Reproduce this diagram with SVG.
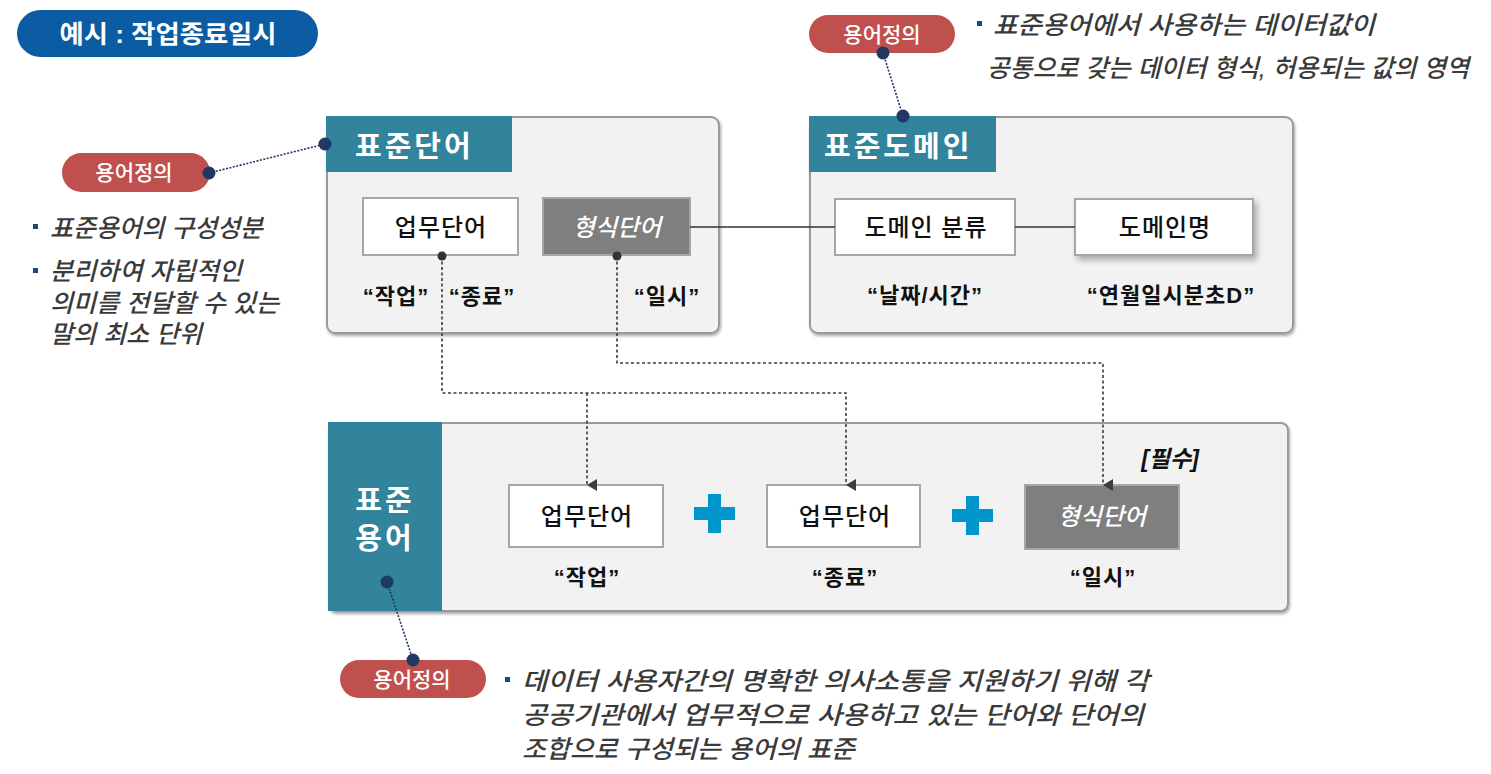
<svg xmlns="http://www.w3.org/2000/svg" width="1491" height="774" viewBox="0 0 1491 774">
<style>
.ko{font-family:"Liberation Sans","Noto Sans CJK KR",sans-serif}
.outer{fill:#F2F2F2;stroke:#9A9A9A;stroke-width:2}
.hdr{fill:#31849B}
.hdrt{fill:#fff;font-size:29px;font-weight:bold;letter-spacing:3px}
.wbox{fill:#fff;stroke:#A6A6A6;stroke-width:2}
.gbox{fill:#7F7F7F;stroke:#A6A6A6;stroke-width:2}
.bt{fill:#111;font-size:24px;font-weight:500;letter-spacing:1px;text-anchor:middle}
.gt{fill:#fff;font-size:24px;font-style:italic;font-weight:500;text-anchor:middle}
.lbl{fill:#111;font-size:22px;font-weight:bold;letter-spacing:1px;text-anchor:middle}
.pill{fill:#C0504D}
.pillt{fill:#fff;font-size:21px;font-weight:500;text-anchor:middle}
.desc{fill:#3A3A3A;font-size:25px;font-style:italic;font-weight:500}
.bul{fill:#1F497D}
.dot{fill:#1F3864}
.ndot{fill:#333}
.lead{fill:none;stroke:#1F3864;stroke-width:1.6;stroke-dasharray:2 1.5}
.dash{fill:none;stroke:#3C3C3C;stroke-width:1.6;stroke-dasharray:3 2.5}
.solid{fill:none;stroke:#333;stroke-width:1.6}
.plus{fill:#0096CC}
</style>
<defs>
<marker id="arr" viewBox="0 0 12 10" refX="6" refY="10" markerWidth="12" markerHeight="10" markerUnits="userSpaceOnUse" orient="auto-start-reverse">
<path d="M0,0 L12,0 L6,10 Z" fill="#3C3C3C"/>
</marker>
<filter id="sh" x="-5%" y="-5%" width="112%" height="115%">
<feDropShadow dx="1" dy="2" stdDeviation="1.5" flood-color="#000" flood-opacity="0.35"/>
</filter>
<filter id="sh2" x="-10%" y="-10%" width="125%" height="140%">
<feDropShadow dx="3" dy="4" stdDeviation="3" flood-color="#000" flood-opacity="0.3"/>
</filter>
</defs>

<g id="example-badge">
<rect x="17" y="10" width="301" height="47" rx="23.5" fill="#0B5CA2"/>
<text class="ko" x="168" y="43" fill="#fff" font-size="25" font-weight="bold" text-anchor="middle" textLength="217" lengthAdjust="spacingAndGlyphs">예시 : 작업종료일시</text>
</g>

<g id="std-word">
<rect class="outer" x="327" y="117" width="392" height="216" rx="8" filter="url(#sh)"/>
<rect class="hdr" x="326" y="116" width="186" height="56"/>
<text class="ko hdrt" x="355" y="157">표준단어</text>
</g>
<g id="word-biz">
<rect class="wbox" x="363" y="198" width="155" height="57"/>
<text class="ko bt" x="441" y="236">업무단어</text>
</g>
<g id="word-form">
<rect class="gbox" x="543" y="198" width="147" height="57"/>
<text class="ko gt" x="617" y="236">형식단어</text>
</g>
<g id="word-labels">
<text class="ko lbl" x="396" y="304">“작업”</text>
<text class="ko lbl" x="482" y="304">“종료”</text>
<text class="ko lbl" x="667" y="304">“일시”</text>
</g>

<g id="std-domain">
<rect class="outer" x="810" y="117" width="483" height="216" rx="8" filter="url(#sh)"/>
<rect class="hdr" x="809" y="116" width="187" height="56"/>
<text class="ko hdrt" x="824" y="157">표준도메인</text>
</g>
<g id="domain-class">
<rect class="wbox" x="835" y="199" width="180" height="56"/>
<text class="ko bt" x="926" y="236">도메인 분류</text>
</g>
<g id="domain-name">
<rect class="wbox" x="1075" y="199" width="178" height="56" filter="url(#sh2)"/>
<text class="ko bt" x="1165" y="236">도메인명</text>
</g>
<g id="domain-labels">
<text class="ko lbl" x="925" y="303">“날짜/시간”</text>
<text class="ko lbl" x="1171" y="303">“연월일시분초D”</text>
</g>

<g id="std-term">
<rect class="outer" x="329" y="423" width="959" height="188" rx="7" filter="url(#sh)"/>
<rect class="hdr" x="328" y="422" width="114" height="189"/>
<text class="ko hdrt" x="385" y="511" text-anchor="middle" letter-spacing="1">표준</text>
<text class="ko hdrt" x="385" y="549" text-anchor="middle" letter-spacing="1">용어</text>
<text class="ko" x="1170" y="467" fill="#111" font-size="23" font-weight="bold" font-style="italic" text-anchor="middle">[필수]</text>
</g>
<g id="term-biz1">
<rect class="wbox" x="509" y="485" width="154" height="62"/>
<text class="ko bt" x="587" y="525">업무단어</text>
<text class="ko lbl" x="587" y="585">“작업”</text>
</g>
<g id="plus1"><path class="plus" d="M708,494 h13 v13 h14 v13 h-14 v13 h-13 v-13 h-14 v-13 h14 Z"/></g>
<g id="term-biz2">
<rect class="wbox" x="767" y="485" width="153" height="62"/>
<text class="ko bt" x="845" y="525">업무단어</text>
<text class="ko lbl" x="845" y="585">“종료”</text>
</g>
<g id="plus2"><path class="plus" d="M966,496 h13 v13 h14 v13 h-14 v13 h-13 v-13 h-14 v-13 h14 Z"/></g>
<g id="term-form">
<rect class="gbox" x="1025" y="485" width="154" height="64"/>
<text class="ko gt" x="1102" y="525">형식단어</text>
<text class="ko lbl" x="1103" y="585">“일시”</text>
</g>

<g id="def-word">
<rect class="pill" x="62" y="153" width="148" height="39" rx="19.5"/>
<text class="ko pillt" x="134" y="180">용어정의</text>
<rect class="bul" x="33" y="224" width="5" height="5"/>
<text class="ko desc" x="50" y="237" textLength="213" lengthAdjust="spacingAndGlyphs">표준용어의 구성성분</text>
<rect class="bul" x="33" y="268" width="5" height="5"/>
<text class="ko desc" x="50" y="280" textLength="192" lengthAdjust="spacingAndGlyphs">분리하여 자립적인</text>
<text class="ko desc" x="50" y="312" textLength="229" lengthAdjust="spacingAndGlyphs">의미를 전달할 수 있는</text>
<text class="ko desc" x="50" y="343" textLength="152" lengthAdjust="spacingAndGlyphs">말의 최소 단위</text>
</g>

<g id="def-domain">
<rect class="pill" x="809" y="15" width="146" height="38" rx="19"/>
<text class="ko pillt" x="882" y="42">용어정의</text>
<rect class="bul" x="977" y="21" width="5" height="5"/>
<text class="ko desc" x="993" y="34" textLength="382" lengthAdjust="spacingAndGlyphs">표준용어에서 사용하는 데이터값이</text>
<text class="ko desc" x="987" y="77" textLength="482" lengthAdjust="spacingAndGlyphs">공통으로 갖는 데이터 형식, 허용되는 값의 영역</text>
</g>

<g id="def-term">
<rect class="pill" x="340" y="660" width="146" height="38" rx="19"/>
<text class="ko pillt" x="412" y="687">용어정의</text>
<rect class="bul" x="505" y="677" width="5" height="5"/>
<text class="ko desc" x="522" y="690" font-size="26" textLength="627" lengthAdjust="spacingAndGlyphs">데이터 사용자간의 명확한 의사소통을 지원하기 위해 각</text>
<text class="ko desc" x="522" y="724" font-size="26" textLength="622" lengthAdjust="spacingAndGlyphs">공공기관에서 업무적으로 사용하고 있는 단어와 단어의</text>
<text class="ko desc" x="522" y="758" font-size="26" textLength="333" lengthAdjust="spacingAndGlyphs">조합으로 구성되는 용어의 표준</text>
</g>

<g id="connectors">
<path class="solid" d="M690,227 H835"/>
<path class="solid" d="M1015,227 H1075"/>
<path class="dash" d="M442,256 V393 H846 V485" marker-end="url(#arr)"/>
<path class="dash" d="M587,393 V485" marker-end="url(#arr)"/>
<path class="dash" d="M617,256 V363 H1103 V485" marker-end="url(#arr)"/>
<circle class="ndot" cx="442" cy="256" r="4.5"/>
<circle class="ndot" cx="617" cy="256" r="4.5"/>
<path class="lead" d="M209,173 L325,144"/>
<circle class="dot" cx="209" cy="173" r="6.5"/>
<circle class="dot" cx="325" cy="144" r="6.5"/>
<path class="lead" d="M883,53 L903,116"/>
<circle class="dot" cx="883" cy="53" r="6.5"/>
<circle class="dot" cx="903" cy="116" r="6.5"/>
<path class="lead" d="M387,582 L413,660"/>
<circle class="dot" cx="387" cy="582" r="6.5"/>
<circle class="dot" cx="413" cy="660" r="6.5"/>
</g>
</svg>
